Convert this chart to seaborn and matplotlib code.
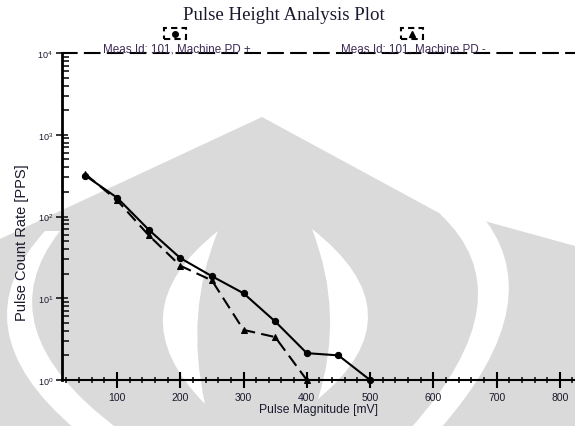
import numpy as np
import pandas as pd
import matplotlib
matplotlib.use("Agg")
import matplotlib.pyplot as plt
import seaborn as sns
from matplotlib.path import Path
from matplotlib.patches import PathPatch, Rectangle
from matplotlib.lines import Line2D
from matplotlib.ticker import LogLocator, MultipleLocator, LogFormatterSciNotation, NullFormatter

# ---- data ----
pulse_mv = [50, 100, 150, 200, 250, 300, 350, 400, 450, 500]
pd_plus = [316, 170, 69, 31, 18.6, 11.5, 5.2, 2.13, 2.0, 1.0]
pulse_mv_minus = [50, 100, 150, 200, 250, 300, 350, 400]
pd_minus = [330, 158, 59, 25, 16.5, 4.1, 3.35, 1.0]
series_labels = ["Meas Id: 101, Machine PD +", "Meas Id: 101, Machine PD -"]
title = "Pulse Height Analysis Plot"
xlabel = "Pulse Magnitude [mV]"
ylabel = "Pulse Count Rate [PPS]"

sns.set_theme(style="white")
plt.rcParams["font.family"] = ["Liberation Sans", "DejaVu Sans"]

W, H = 575, 427
fig = plt.figure(figsize=(W / 100, H / 100), dpi=100)
fig.patch.set_facecolor("white")

def P(x, y):
    return (x / W, 1 - y / H)

def ctrl(p0, m, p2):
    return (2 * m[0] - (p0[0] + p2[0]) / 2, 2 * m[1] - (p0[1] + p2[1]) / 2)

# ---- background watermark (decoration) ----
gray_pts = [(0, 240), (262, 118), (463, 227), (470, 218), (575, 247), (575, 427), (0, 427), (0, 240)]
verts = [P(*p) for p in gray_pts]
codes = [Path.MOVETO] + [Path.LINETO] * (len(verts) - 2) + [Path.CLOSEPOLY]
fig.add_artist(PathPatch(Path(verts, codes), transform=fig.transFigure,
                         facecolor="#dadada", edgecolor="none", zorder=-2))

def crescent(top, bottom, outer_mid, inner_mid, top2=None, bottom2=None):
    top2 = top2 or top
    bottom2 = bottom2 or bottom
    c1 = ctrl(top, outer_mid, bottom)
    c2 = ctrl(bottom2, inner_mid, top2)
    v = [P(*top), P(*c1), P(*bottom), P(*bottom2), P(*c2), P(*top2), P(*top)]
    c = [Path.MOVETO, Path.CURVE3, Path.CURVE3, Path.LINETO, Path.CURVE3, Path.CURVE3, Path.CLOSEPOLY]
    fig.add_artist(PathPatch(Path(v, c), transform=fig.transFigure,
                             facecolor="white", edgecolor="none", zorder=-1))

crescent((45, 232), (75, 430), (8, 330), (36, 330), top2=(60, 232), bottom2=(118, 430))
crescent((218, 232), (205, 405), (163, 316), (198, 316))
crescent((312, 230), (318, 400), (368, 315), (330, 315))
crescent((478, 212), (440, 430), (507, 310), (477, 310), top2=(440, 215), bottom2=(410, 430))

# ---- axes ----
ax = fig.add_axes([62 / W, 1 - 381 / H, (W - 62) / W, (381 - 54) / H])
ax.set_facecolor("none")

sns.lineplot(x=pulse_mv, y=pd_plus, ax=ax, color="black", linewidth=1.5,
             marker="o", markersize=4.5, markeredgecolor="black", clip_on=False, zorder=5)
sns.lineplot(x=pulse_mv_minus, y=pd_minus, ax=ax, color="black", linewidth=1.5,
             linestyle=(0, (6, 3)), marker="^", markersize=5, markeredgecolor="black",
             clip_on=False, zorder=5)

ax.set_yscale("log")
ax.set_xlim(13, 824)
ax.set_ylim(1, 1e4)

ax.xaxis.set_major_locator(MultipleLocator(100))
ax.xaxis.set_minor_locator(MultipleLocator(20))
ax.yaxis.set_major_locator(LogLocator(base=10, numticks=10))
ax.yaxis.set_minor_locator(LogLocator(base=10, subs=np.arange(2, 10), numticks=20))
ax.yaxis.set_major_formatter(LogFormatterSciNotation())
ax.yaxis.set_minor_formatter(NullFormatter())
ax.set_xticks([100, 200, 300, 400, 500, 600, 700, 800])

ax.tick_params(axis="x", which="major", direction="inout", length=11, width=1.5,
               labelsize=7.5, pad=3, colors="black", labelcolor="#1a1a2e", bottom=True)
ax.tick_params(axis="x", which="minor", direction="inout", length=5, width=1.3, bottom=True)
ax.tick_params(axis="y", which="major", direction="inout", length=9, width=1.3,
               labelsize=6.5, pad=2, labelcolor="#1a1a2e", left=True)
ax.tick_params(axis="y", which="minor", direction="in", length=5, width=1.3, left=True)

ax.spines["right"].set_visible(False)
ax.spines["left"].set_linewidth(2)
ax.spines["left"].set_color("black")
ax.spines["bottom"].set_linewidth(1.5)
ax.spines["bottom"].set_color("black")
ax.spines["top"].set_linewidth(1.5)
ax.spines["top"].set_color("black")
ax.spines["top"].set_linestyle((0, (7, 4)))

ax.set_xlabel(xlabel, fontsize=8.7, color="#1a1a2e", labelpad=1)
ax.set_ylabel(ylabel, fontsize=10.5, color="#1a1a2e")
# place y label where it sits in the reference
ax.yaxis.set_label_coords(-(62 - 29) / (W - 62), (381 - 243) / (381 - 54))
ax.grid(False)

# ---- title and legend above the plot ----
fig.text(284 / W, 1 - 15 / H, title, ha="center", va="center", fontsize=13.6,
         family=["Liberation Serif", "DejaVu Serif"], color="#1a1a2e")

legend_pos = [(177, 175), (413, 412)]
legend_markers = ["o", "^"]
for (tx, bx), lab, mk in zip(legend_pos, series_labels, legend_markers):
    fig.text(tx / W, 1 - 49 / H, lab, ha="center", va="center", fontsize=8.4,
             color="#3d2b56")
    fig.add_artist(Rectangle(P(bx - 11, 40), 22 / W, 11 / H, transform=fig.transFigure,
                             fill=False, edgecolor="black", linewidth=1.5,
                             linestyle=(0, (3, 2))))
    fig.add_artist(Line2D([bx / W], [1 - 35 / H], transform=fig.transFigure,
                          marker=mk, markersize=4, color="black", linestyle="none"))

fig.savefig("out.png", dpi=100)
